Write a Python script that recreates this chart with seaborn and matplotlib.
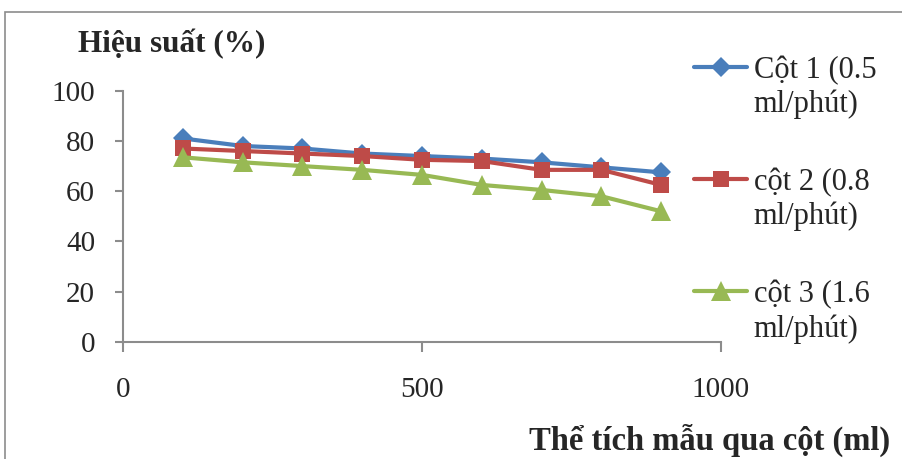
import matplotlib
matplotlib.use("Agg")
import matplotlib.pyplot as plt
from matplotlib.patches import Rectangle
import seaborn as sns
import pandas as pd

# Sample volume passed through the column (ml)
volume = [100, 200, 300, 400, 500, 600, 700, 800, 900]

# Recovery efficiency (%) for each column flow rate
cot1 = [81, 78, 77, 75, 74, 73, 71.5, 69.5, 67.5]
cot2 = [77, 76, 75, 74, 72.5, 72, 68.5, 68.5, 62.5]
cot3 = [73.5, 71.5, 70, 68.5, 66.5, 62.5, 60.5, 58, 52]

series_names = ["Cột 1 (0.5\nml/phút)", "cột 2 (0.8\nml/phút)", "cột 3 (1.6\nml/phút)"]
series_values = [cot1, cot2, cot3]
colors = ["#4A7EBB", "#BE4B48", "#98B954"]
markers = ["D", "s", "^"]
marker_sizes = [10, 11, 14.5]

x_ticks = [0, 500, 1000]
y_ticks = [0, 20, 40, 60, 80, 100]

sns.set_style("white")
plt.rcParams["font.family"] = ["Liberation Serif", "DejaVu Serif"]

W, H = 902, 459
fig = plt.figure(figsize=(W / 100, H / 100), dpi=100)

left, right, bottom, top = 123, 721, 342, 90.7
ax = fig.add_axes([left / W, 1 - bottom / H, (right - left) / W, (bottom - top) / H])

frames = []
for name, vals in zip(series_names, series_values):
    frames.append(pd.DataFrame({"volume": volume, "value": vals, "series": name}))
df = pd.concat(frames, ignore_index=True)

handles = []
for name, color, mk, ms in zip(series_names, colors, markers, marker_sizes):
    sub = df[df["series"] == name]
    sns.lineplot(data=sub, x="volume", y="value", ax=ax, color=color,
                 marker=mk, markersize=ms, markeredgewidth=0, linewidth=3,
                 label=name, legend=False)
    handles.append(ax.lines[-1])

ax.set_xlim(0, 1000)
ax.set_ylim(0, 100)
ax.set_xticks(x_ticks)
ax.set_yticks(y_ticks)
ax.set_xlabel("")
ax.set_ylabel("")

for side in ["top", "right"]:
    ax.spines[side].set_visible(False)
for side in ["left", "bottom"]:
    ax.spines[side].set_color("#8c8c8c")
    ax.spines[side].set_linewidth(1.5)

ax.tick_params(axis="x", direction="out", length=7, width=1.5, color="#8c8c8c",
               labelsize=21, pad=18, bottom=True)
ax.tick_params(axis="y", direction="out", length=6, width=1.5, color="#8c8c8c",
               labelsize=21, pad=14, left=True)

fig.text(78 / W, 1 - 44 / H, "Hiệu suất (%)", fontsize=22.5, fontweight="bold",
         ha="left", va="center")
fig.text(890 / W, 1 - 440 / H, "Thể tích mẫu qua cột (ml)", fontsize=23.5,
         fontweight="bold", ha="right", va="center")

leg = fig.legend(handles=handles, labels=series_names, loc="upper left",
                 bbox_to_anchor=(694 / W, 1 - 56 / H), frameon=False,
                 fontsize=22, handlelength=1.75, handletextpad=0.2,
                 labelspacing=1.6, borderpad=0, borderaxespad=0)
# Align each legend marker with the first line of its two-line label
for col in leg._legend_handle_box.get_children():
    for item in col.get_children():
        item.align = "top"

# Outer frame around the chart area
fig.add_artist(Rectangle((5 / W, -0.1), 1.2, (H - 12) / H + 0.1,
                         transform=fig.transFigure, fill=False,
                         edgecolor="#8c8c8c", linewidth=1.2))

fig.savefig("out.png", dpi=100)
